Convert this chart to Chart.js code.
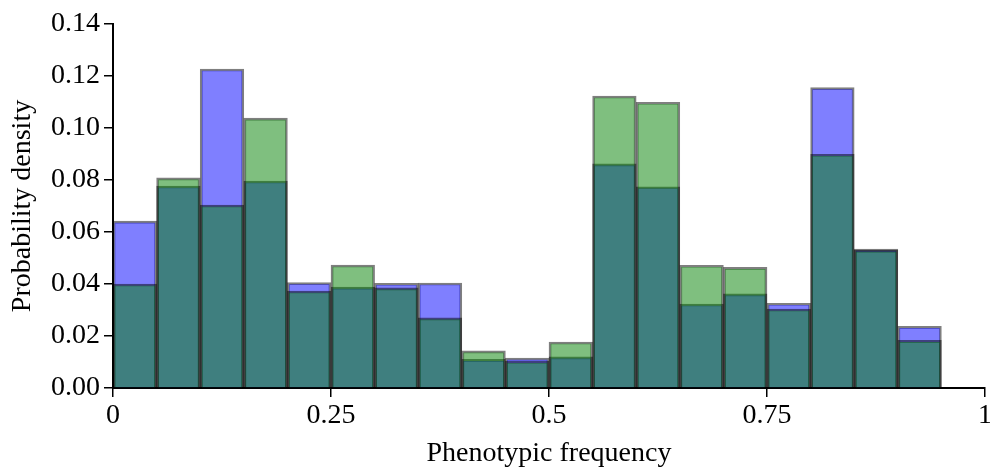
<!DOCTYPE html>
<html>
<head>
<meta charset="utf-8">
<script src="https://cdn.jsdelivr.net/npm/chart.js@4/dist/chart.umd.min.js"></script>
<style>
  html, body { margin: 0; padding: 0; background: #fff; }
  #wrap { width: 990px; height: 470px; }
</style>
</head>
<body>
<div id="wrap"><canvas id="histChart" width="990" height="470"></canvas></div>
<script>
// bin centres, width 0.05
const binCenters = [0.025, 0.075, 0.125, 0.175, 0.225, 0.275, 0.325, 0.375, 0.425, 0.475,
                    0.525, 0.575, 0.625, 0.675, 0.725, 0.775, 0.825, 0.875, 0.925];
const blueValues = [0.0642, 0.0777, 0.1227, 0.0796, 0.0405, 0.0388, 0.0403, 0.0404, 0.0110, 0.0115,
                    0.0120, 0.0862, 0.0774, 0.0323, 0.0362, 0.0326, 0.1155, 0.0534, 0.0237];
const greenValues = [0.0400, 0.0808, 0.0704, 0.1038, 0.0373, 0.0473, 0.0385, 0.0270, 0.0143, 0.0103,
                     0.0177, 0.1123, 0.1099, 0.0472, 0.0464, 0.0304, 0.0899, 0.0530, 0.0183];
const xTicks = [0, 0.25, 0.5, 0.75, 1];
const yTicks = [0, 0.02, 0.04, 0.06, 0.08, 0.10, 0.12, 0.14];

const FONT = "'Liberation Serif', 'DejaVu Serif', serif";

function toPoints(vals) {
    return vals.map((v, i) => ({ x: binCenters[i], y: v }));
}

const ctx = document.getElementById("histChart").getContext("2d");
new Chart(ctx, {
    type: "bar",
    data: {
        datasets: [{
            label: "green",
            data: toPoints(greenValues),
            backgroundColor: "rgba(0,128,0,0.5)",
            borderColor: "rgba(0,0,0,0.5)",
            borderWidth: 2,
            order: 0
        }, {
            label: "blue",
            data: toPoints(blueValues),
            backgroundColor: "rgba(0,0,255,0.5)",
            borderColor: "rgba(0,0,0,0.5)",
            borderWidth: 2,
            order: 1
        }]
    },
    options: {
        responsive: false,
        animation: false,
        grouped: false,
        barPercentage: 1,
        categoryPercentage: 1,
        layout: { padding: { top: 24, right: 0, left: 0, bottom: 0 } },
        plugins: { legend: { display: false }, tooltip: { enabled: false } },
        scales: {
            x: {
                type: "linear",
                offset: false,
                min: 0, max: 1,
                afterBuildTicks: (axis) => { axis.ticks = xTicks.map(v => ({ value: v })); },
                ticks: {
                    color: "#000",
                    font: { family: FONT, size: 28 },
                    padding: 2,
                    maxRotation: 0,
                    callback: (v) => String(v)
                },
                grid: { offset: false, drawOnChartArea: false, drawTicks: true, tickLength: 9, color: "#000", lineWidth: 1.5 },
                border: { display: true, color: "#000", width: 2 },
                title: { display: true, text: "Phenotypic frequency", color: "#000",
                         font: { family: FONT, size: 28 }, padding: { top: 8, bottom: 0 } },
                afterFit: (axis) => { axis.height = 470 - 388; axis.paddingRight = 5; }
            },
            y: {
                type: "linear",
                min: 0, max: 0.14,
                afterBuildTicks: (axis) => { axis.ticks = yTicks.map(v => ({ value: v })); },
                ticks: {
                    color: "#000",
                    font: { family: FONT, size: 28 },
                    padding: 4,
                    callback: (v) => v.toFixed(2)
                },
                grid: { drawOnChartArea: false, drawTicks: true, tickLength: 9, color: "#000", lineWidth: 1.5 },
                border: { display: true, color: "#000", width: 2 },
                title: { display: true, text: "Probability density", color: "#000",
                         font: { family: FONT, size: 28 }, padding: { top: 6, bottom: 4 } },
                afterFit: (axis) => { axis.width = 113; }
            }
        }
    }
});
</script>
</body>
</html>
